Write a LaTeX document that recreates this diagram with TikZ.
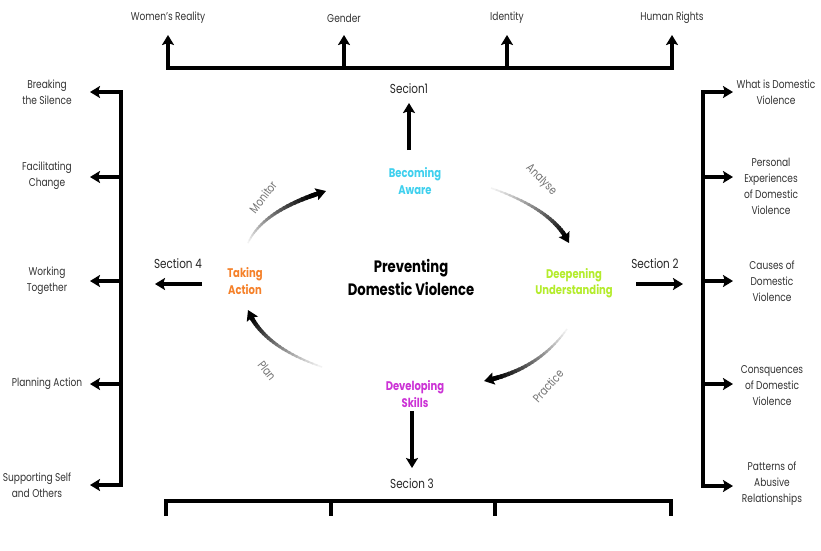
\documentclass[tikz,border=0pt]{standalone}
\usepackage{fontspec}
\setmainfont{Poppins}[FakeStretch=0.8]
\usetikzlibrary{arrows.meta,calc}
\definecolor{awarec}{HTML}{3FD0EE}
\definecolor{deepc}{HTML}{B4EC2C}
\definecolor{skillc}{HTML}{CC33D6}
\definecolor{actc}{HTML}{F5812A}
\tikzset{
  bar/.style={line width=4pt},
  tip/.style={-{Stealth[length=10pt,width=12pt,inset=2pt]}},
  tips/.style={{Stealth[length=10pt,width=12pt,inset=2pt]}-{Stealth[length=10pt,width=12pt,inset=2pt]}},
  lbl/.style={font=\fontsize{11.3}{16}\selectfont, align=center, text=black!80, inner sep=1pt},
  sec/.style={font=\fontsize{13}{15}\selectfont, text=black!85, inner sep=1pt},
  stage/.style={font=\bfseries\fontsize{12.5}{16.5}\selectfont, align=center, inner sep=1pt},
  ttl/.style={font=\bfseries\fontsize{16.5}{23}\selectfont, align=center, inner sep=1pt},
  cyc/.style={font=\fontsize{12}{13}\selectfont, text=black!55, inner sep=0pt}
}
\newcommand{\gradarrow}[3]{%
  \foreach \i in {0,...,23}{%
    \pgfmathsetmacro\ta{0.9*\i/24}%
    \pgfmathsetmacro\tb{0.9*(\i+1.4)/24}%
    \pgfmathsetmacro\sh{5+95*\i/23}%
    \pgfmathsetmacro\lw{1.5+3*\i/23}%
    \draw[line width=\lw pt, draw=black!\sh]
      ($($(#1)!\ta!(#2)$)!\ta!($(#2)!\ta!(#3)$)$) --
      ($($(#1)!\tb!(#2)$)!\tb!($(#2)!\tb!(#3)$)$);
  }%
  \draw[line width=4.5pt, -{Stealth[length=10pt,width=12pt,inset=1.5pt]}]
    ($($(#1)!0.88!(#2)$)!0.88!($(#2)!0.88!(#3)$)$) -- (#3);
}
\begin{document}
\begin{tikzpicture}[x=1pt,y=-1pt]
\useasboundingbox (0,0) rectangle (821,550);
\fill[white] (0,0) rectangle (821,550);

% ---------- top ----------
\node[lbl] (wr) at (168,18) {Women's Reality};
\node[lbl] (ge) at (344,18) {Gender};
\node[lbl] (id) at (507,18) {Identity};
\node[lbl] (hr) at (672,18) {Human Rights};
\coordinate (twr) at (168,35); \coordinate (cwr) at (168,68);
\coordinate (tge) at (344,35); \coordinate (cge) at (344,68);
\coordinate (tid) at (507,35); \coordinate (cid) at (507,68);
\coordinate (thr) at (672,35); \coordinate (chr) at (672,68);
\draw[bar,tips] (twr) -- (cwr) -- (chr) -- (thr);
\draw[bar,tip] (cge) -- (tge);
\draw[bar,tip] (cid) -- (tid);

% ---------- left ----------
\node[lbl] (l1) at (47,92) {Breaking\\the Silence};
\node[lbl] (l2) at (47,176) {Facilitating\\Change};
\node[lbl] (l3) at (47,281) {Working\\Together};
\node[lbl] (l4) at (47,384) {Planning Action};
\node[lbl] (l5) at (37,485) {Supporting Self\\and Others};
\coordinate (tl1) at (90,92);  \coordinate (cl1) at (121,92);
\coordinate (tl2) at (90,177); \coordinate (cl2) at (121,177);
\coordinate (tl3) at (90,281); \coordinate (cl3) at (121,281);
\coordinate (tl4) at (90,384); \coordinate (cl4) at (121,384);
\coordinate (tl5) at (90,485); \coordinate (cl5) at (121,485);
\draw[bar,tips] (tl1) -- (cl1) -- (cl5) -- (tl5);
\draw[bar,tip] (cl2) -- (tl2);
\draw[bar,tip] (cl3) -- (tl3);
\draw[bar,tip] (cl4) -- (tl4);

% ---------- right ----------
\node[lbl] (r1) at (776,92) {What is Domestic\\Violence};
\node[lbl] (r2) at (771,186) {Personal\\Experiences\\of Domestic\\Violence};
\node[lbl] (r3) at (772,281) {Causes of\\Domestic\\Violence};
\node[lbl] (r4) at (772,386) {Consquences\\of Domestic\\Violence};
\node[lbl] (r5) at (772,484) {Patterns of\\Abusive\\Relationships};
\coordinate (tr1) at (733,92);  \coordinate (cr1) at (703,92);
\coordinate (tr2) at (733,177); \coordinate (cr2) at (703,177);
\coordinate (tr3) at (733,281); \coordinate (cr3) at (703,281);
\coordinate (tr4) at (733,384); \coordinate (cr4) at (703,384);
\coordinate (tr5) at (733,486); \coordinate (cr5) at (703,486);
\draw[bar,tips] (tr1) -- (cr1) -- (cr5) -- (tr5);
\draw[bar,tip] (cr2) -- (tr2);
\draw[bar,tip] (cr3) -- (tr3);
\draw[bar,tip] (cr4) -- (tr4);

% ---------- bottom bar ----------
\coordinate (b1) at (166,501); \coordinate (b1e) at (166,516);
\coordinate (b2) at (331,501); \coordinate (b2e) at (331,516);
\coordinate (b3) at (495,501); \coordinate (b3e) at (495,516);
\coordinate (b4) at (671,501); \coordinate (b4e) at (671,516);
\draw[bar] (b1e) -- (b1) -- (b4) -- (b4e);
\draw[bar] (b2) -- (b2e);
\draw[bar] (b3) -- (b3e);

% ---------- centre ----------
\node[ttl] (ctr) at (411,277) {Preventing\\Domestic Violence};
\node[stage,text=awarec] (aw) at (415,181) {Becoming\\Aware};
\node[stage,text=deepc] (dp) at (574,283) {Deepening\\Understanding};
\node[stage,text=skillc] (sk) at (415,394) {Developing\\Skills};
\node[stage,text=actc] (ac) at (245,281) {Taking\\Action};

% sections
\node[sec] (s1) at (409,89) {Secion1};
\node[sec] (s2) at (655,264) {Section 2};
\node[sec] (s3) at (412,484) {Secion 3};
\node[sec] (s4) at (178,264) {Section 4};
\coordinate (s1a) at (409,150); \coordinate (s1b) at (409,103);
\coordinate (s2a) at (636,284); \coordinate (s2b) at (683,284);
\coordinate (s3a) at (412,411); \coordinate (s3b) at (412,468);
\coordinate (s4a) at (202,284); \coordinate (s4b) at (155,284);
\draw[bar,tip] (s1a) -- (s1b);
\draw[bar,tip] (s2a) -- (s2b);
\draw[bar,tip] (s3a) -- (s3b);
\draw[bar,tip] (s4a) -- (s4b);

% ---------- cycle arrows ----------
\coordinate (mA) at (248,243); \coordinate (mC) at (263,210); \coordinate (mB) at (326,191);
\coordinate (nA) at (491,188); \coordinate (nC) at (554,210); \coordinate (nB) at (569,243);
\coordinate (pA) at (567,329); \coordinate (pC) at (538,370); \coordinate (pB) at (484,381);
\coordinate (qA) at (322,367); \coordinate (qC) at (262,346); \coordinate (qB) at (248,310);
\gradarrow{mA}{mC}{mB}
\gradarrow{nA}{nC}{nB}
\gradarrow{pA}{pC}{pB}
\gradarrow{qA}{qC}{qB}
\node[cyc,rotate=52] (mon) at (263,197) {Monitor};
\node[cyc,rotate=-45] (ana) at (541,180) {Analyse};
\node[cyc,rotate=48] (pra) at (548,386) {Practice};
\node[cyc,rotate=-52] (pla) at (267,371) {Plan};
\end{tikzpicture}
\end{document}
